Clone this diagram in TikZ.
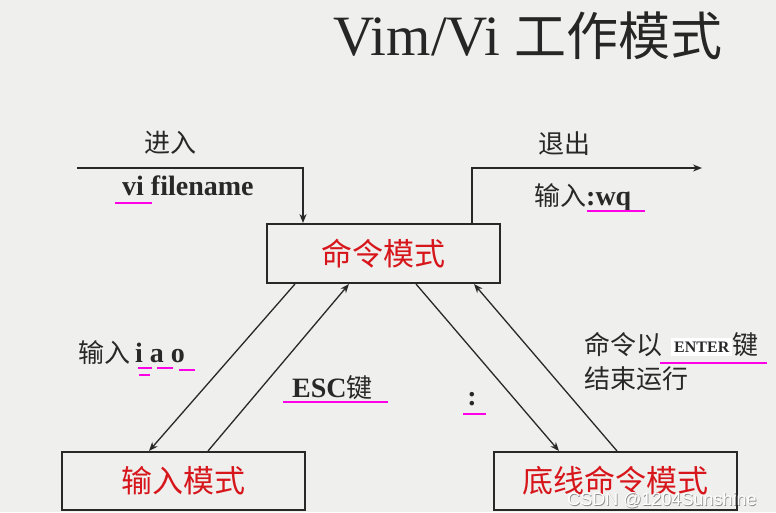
\documentclass[tikz,border=0pt]{standalone}
\usepackage{fontspec}
\setmainfont{Liberation Serif}
\newfontfamily\cjk{Noto Sans CJK SC}
\newfontfamily\wmfont{Liberation Sans}
\usetikzlibrary{arrows.meta,calc}
\definecolor{bg}{RGB}{239,239,237}
\definecolor{modered}{RGB}{215,22,28}
\definecolor{ulmag}{RGB}{255,0,230}
\definecolor{ink}{RGB}{40,40,40}
\tikzset{
  modebox/.style={draw=ink, line width=2pt, fill=bg, inner sep=0pt, text=modered,
    font=\cjk\fontsize{31}{31}\selectfont},
  conn/.style={draw=ink, line width=1.3pt, -{Stealth[length=9pt,width=7pt]}},
  lbl/.style={inner sep=0pt, text=ink},
  cjklbl/.style={lbl, font=\cjk\fontsize{26}{26}\selectfont},
  ul/.style={draw=ulmag, line width=2.2pt}
}
\begin{document}
\begin{tikzpicture}[x=1pt,y=-1pt]
\fill[bg] (0,0) rectangle (776,512);
\useasboundingbox (0,0) rectangle (776,512);

% title
\node[lbl, text=black!85] (title) at (528,36)
  {\fontsize{57}{57}\selectfont Vim/Vi {\cjk\fontsize{52}{52}\selectfont 工作模式}};

% mode boxes
\node[modebox, minimum width=233pt, minimum height=59pt] (cmd) at (383.5,253.5) {命令模式};
\node[modebox, minimum width=243pt, minimum height=58pt] (ins) at (183.5,481) {输入模式};
\node[modebox, minimum width=243pt, minimum height=58pt] (bot) at (615.5,481) {底线命令模式};

% enter / exit
\coordinate (in0) at (77,168);
\coordinate (out1) at (702,168);
\draw[conn] (in0) -| ($(cmd.north west)+(37,0)$);
\draw[conn] ($(cmd.north west)+(206,0)$) |- (out1);

% diagonals
\draw[conn] ($(cmd.south west)+(29,0)$) -- ($(ins.north west)+(88,0)$);
\draw[conn] ($(ins.north west)+(147,0)$) -- ($(cmd.south west)+(83,0)$);
\draw[conn] ($(cmd.south west)+(150,0)$) -- ($(bot.north west)+(66,0)$);
\draw[conn] ($(bot.north west)+(124,0)$) -- ($(cmd.south west)+(208,0)$);

% labels
\node[cjklbl] (enterlbl) at (170,143) {进入};
\node[lbl, font=\bfseries\fontsize{28}{28}\selectfont, anchor=base west] (vifile) at (122,195) {vi filename};
\draw[ul] (115,203) -- (152,203);

\node[cjklbl] (exitlbl) at (564,144) {退出};
\node[lbl, anchor=base west] (wq) at (534,205)
  {{\cjk\fontsize{26}{26}\selectfont 输入}{\bfseries\fontsize{28}{28}\selectfont :wq}};
\draw[ul] (587,211) -- (645,211);

\node[lbl, anchor=base west] (iao) at (78,362)
  {{\cjk\fontsize{26}{26}\selectfont 输入}\hspace{5pt}{\bfseries\fontsize{28}{28}\selectfont i a o}};
\draw[ul] (138,368) -- (152,368);
\draw[ul] (139,375) -- (150,375);
\draw[ul] (157,368) -- (173,368);
\draw[ul] (179,370) -- (195,370);

\node[lbl, anchor=base west] (esc) at (292,397)
  {{\bfseries\fontsize{28}{28}\selectfont ESC}{\cjk\fontsize{26}{26}\selectfont 键}};
\draw[ul] (283,402) -- (388,402);

\node[lbl, font=\bfseries\fontsize{28}{28}\selectfont] (colon) at (472,399) {:};
\draw[ul] (463,414) -- (486,414);

\node[cjklbl, anchor=west] (cmdeq) at (584,345) {命令以};
\node[lbl, fill=white, inner xsep=3pt, inner ysep=4pt, anchor=west,
  font=\bfseries\fontsize{16}{16}\selectfont] (enterkey) at (671,347) {ENTER};
\node[cjklbl, anchor=west] (jian) at (cmdeq.east -| enterkey.east) {键};
\draw[ul] (660,363) -- (767,363);
\node[cjklbl, anchor=west] (endrun) at (584,379) {结束运行};

% watermark
\node[lbl, text=black!45, font=\wmfont\fontsize{18}{18}\selectfont] (wm0) at (662.8,500.8) {CSDN @1204Sunshine};
\node[lbl, text=white, font=\wmfont\fontsize{18}{18}\selectfont] (wm) at (662,500) {CSDN @1204Sunshine};
\end{tikzpicture}
\end{document}
